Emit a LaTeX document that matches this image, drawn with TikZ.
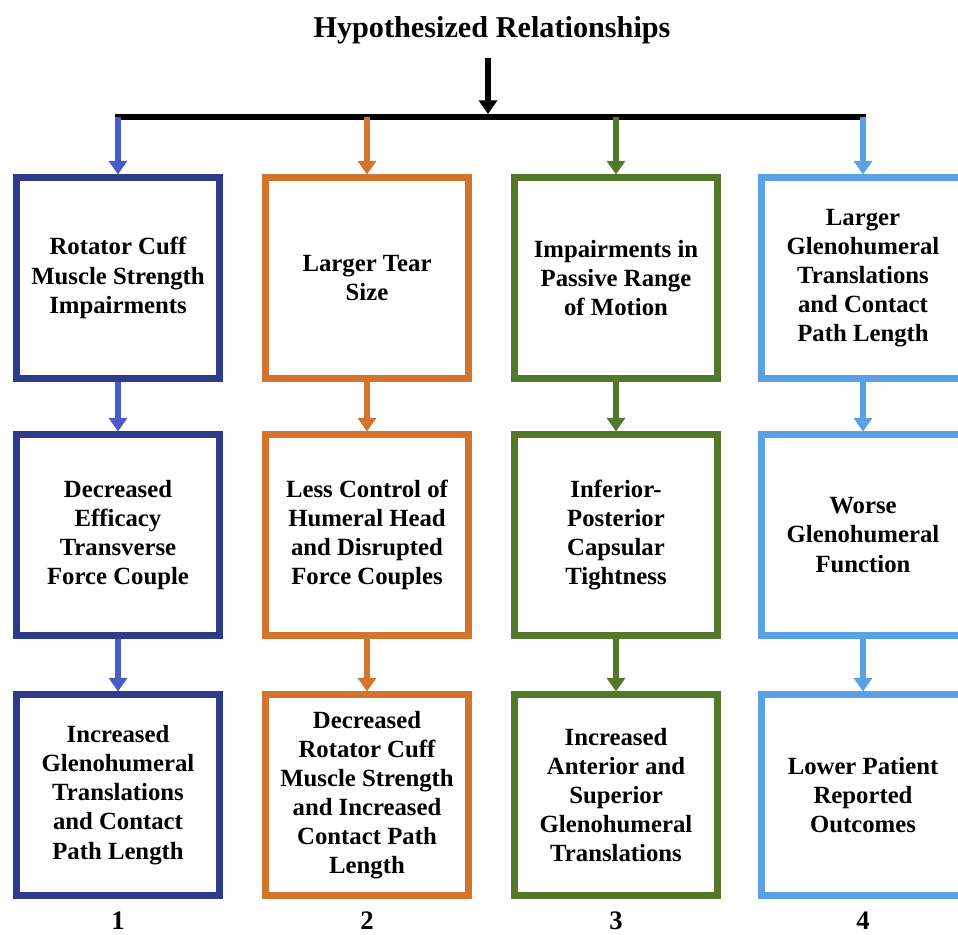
\documentclass[tikz,border=0pt]{standalone}
\usepackage{fontspec}
\setmainfont{Liberation Serif}
\usetikzlibrary{arrows.meta}

\definecolor{navyblue}{HTML}{2E3A8A}
\definecolor{armblue}{HTML}{4A5BC8}
\definecolor{rustorange}{HTML}{D4732C}
\definecolor{mossgreen}{HTML}{54782A}
\definecolor{skyblue}{HTML}{5AA0E4}

\tikzset{
  box/.style={draw, line width=4.98pt, minimum width=5.075cm, minimum height=5cm,
    inner sep=0pt, align=center, font=\fontsize{17.6}{20.7}\selectfont\bfseries},
  link/.style={line width=4pt, -{Triangle[width=0.45cm,length=0.34cm]}},
  heading/.style={font=\fontsize{21.5}{25}\selectfont\bfseries, inner sep=0pt},
  colnum/.style={font=\fontsize{19}{23}\selectfont\bfseries, inner sep=0pt},
}

\begin{document}
\begin{tikzpicture}[x=0.025cm, y=-0.025cm]
  \useasboundingbox (0,0) rectangle (958,934);

  % Title and main arrow
  \node[heading, anchor=base] (ttl) at (492,37) {Hypothesized Relationships};
  \coordinate (top) at (488,58);
  \coordinate (hub) at (488,114);
  \draw[link, line width=4.6pt] (top) -- (hub);

  % Column 1
  \node[box, draw=navyblue] (c1a) at (118,278) {Rotator Cuff\\Muscle Strength\\Impairments};
  \node[box, draw=navyblue] (c1b) at (118,535) {Decreased\\Efficacy\\Transverse\\Force Couple};
  \node[box, draw=navyblue] (c1c) at (118,795) {Increased\\Glenohumeral\\Translations\\and Contact\\Path Length};

  % Column 2
  \node[box, draw=rustorange] (c2a) at (367,278) {Larger Tear\\Size};
  \node[box, draw=rustorange] (c2b) at (367,535) {Less Control of\\Humeral Head\\and Disrupted\\Force Couples};
  \node[box, draw=rustorange] (c2c) at (367,795) {Decreased\\Rotator Cuff\\Muscle Strength\\and Increased\\Contact Path\\Length};

  % Column 3
  \node[box, draw=mossgreen] (c3a) at (616,278) {Impairments in\\Passive Range\\of Motion};
  \node[box, draw=mossgreen] (c3b) at (616,535) {Inferior-\\Posterior\\Capsular\\Tightness};
  \node[box, draw=mossgreen] (c3c) at (616,795) {Increased\\Anterior and\\Superior\\Glenohumeral\\Translations};

  % Column 4
  \node[box, draw=skyblue] (c4a) at (863,278) {Larger\\Glenohumeral\\Translations\\and Contact\\Path Length};
  \node[box, draw=skyblue] (c4b) at (863,535) {Worse\\Glenohumeral\\Function};
  \node[box, draw=skyblue] (c4c) at (863,795) {Lower Patient\\Reported\\Outcomes};

  % Branch bar
  \foreach \x [count=\i] in {118,367,616,863}
    {
      \coordinate (b\i) at (\x,117);
    }
  \draw[line width=4.5pt] ([xshift=-2pt]b1) -- ([xshift=2pt]b4);

  % Arrows down each column
  \foreach \i/\c in {1/armblue,2/rustorange,3/mossgreen,4/skyblue}
    {
      \draw[link, draw=\c, fill=\c] (b\i) -- (c\i a.north);
      \draw[link, draw=\c, fill=\c] (c\i a.south) -- (c\i b.north);
      \draw[link, draw=\c, fill=\c] (c\i b.south) -- (c\i c.north);
    }

  % Column numbers
  \foreach \x [count=\i] in {118,367,616,863}
    {
      \node[colnum, anchor=base] (n\i) at (\x,929) {\i};
    }
\end{tikzpicture}
\end{document}
